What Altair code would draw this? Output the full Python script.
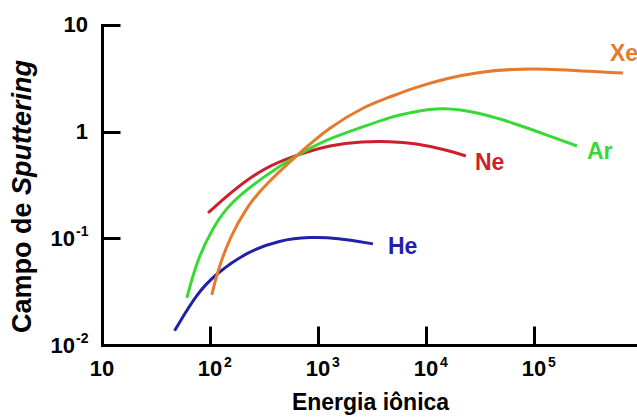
import altair as alt
import pandas as pd

# ---------------- data ----------------
gases = ["He", "Ne", "Ar", "Xe"]
colors = ["#2121a8", "#cc1f2b", "#36d936", "#e57a2c"]

he_energy = [47, 76, 116, 220, 445, 843, 1500, 3230]
he_yield = [0.0136, 0.0308, 0.0474, 0.0746, 0.0966, 0.103, 0.101, 0.0887]

ne_energy = [96, 153, 310, 640, 1290, 2610, 4640, 7590, 15600, 23400]
ne_yield = [0.173, 0.266, 0.457, 0.605, 0.75, 0.81, 0.81, 0.785, 0.673, 0.591]

ar_energy = [61, 76, 107, 153, 310, 640, 1290, 2610, 4640, 7590, 14400, 31600, 63900, 132000, 250000]
ar_yield = [0.0276, 0.0628, 0.128, 0.215, 0.376, 0.605, 0.873, 1.107, 1.37, 1.53, 1.70, 1.50, 1.21, 0.93, 0.734]

xe_energy = [104, 116, 153, 220, 310, 640, 1290, 2610, 4640, 7590, 15600, 31600, 63900, 132000, 267000, 667000]
xe_yield = [0.0295, 0.0474, 0.103, 0.197, 0.303, 0.605, 1.107, 1.70, 2.11, 2.57, 3.18, 3.63, 3.87, 3.87, 3.71, 3.55]

label_energy = [4450, 28400, 310000, 506000]
label_yield = [0.083, 0.51, 0.645, 5.35]

x_tick_values = [100, 1000, 10000, 100000]
x_label_values = [10, 100, 1000, 10000, 100000]
x_label_exps = ["2", "3", "4", "5"]
y_tick_values = [10, 1, 0.1]
y_plain_values = [10, 1]
y_plain_texts = ["10", "1"]
y_exp_values = [0.1, 0.01]
y_exp_texts = ["-1", "-2"]

x_title = "Energia iônica"
y_title_a = "Campo de"
y_title_b = "Sputtering"

# ---------------- tables ----------------
rows = []
for g, es, ys in [("He", he_energy, he_yield), ("Ne", ne_energy, ne_yield),
                  ("Ar", ar_energy, ar_yield), ("Xe", xe_energy, xe_yield)]:
    for e, y in zip(es, ys):
        rows.append({"gas": g, "E": e, "Y": y})
df = pd.DataFrame(rows)
labels_df = pd.DataFrame({"gas": gases, "E": label_energy, "Y": label_yield})

W, H = 535, 320
FONT = "Liberation Sans"
xscale = alt.Scale(type="log", domain=[10, 9e5], nice=False)
yscale = alt.Scale(type="log", domain=[0.01, 10], nice=False)
cscale = alt.Scale(domain=gases, range=colors)

# axes: black 3 px domain lines with inward ticks (negative tick size via expression)
XAX = alt.Axis(
    values=x_tick_values, labels=False, title=None, grid=False,
    domain=True, domainColor="black", domainWidth=3, domainCap="square",
    ticks=True, tickSize={"expr": "-19"}, tickWidth=3, tickColor="black",
)
YAX = alt.Axis(
    values=y_tick_values, labels=False, title=None, grid=False,
    domain=True, domainColor="black", domainWidth=3, domainCap="square",
    ticks=True, tickSize={"expr": "-18"}, tickWidth=3, tickColor="black",
)

lines = alt.Chart(df).mark_line(strokeWidth=3, interpolate="basis").encode(
    x=alt.X("E:Q", scale=xscale, axis=XAX),
    y=alt.Y("Y:Q", scale=yscale, axis=YAX),
    color=alt.Color("gas:N", scale=cscale, legend=None),
    detail="gas:N",
)

line_labels = alt.Chart(labels_df).mark_text(
    font=FONT, fontSize=23, fontWeight="bold", align="left", baseline="middle"
).encode(
    x=alt.X("E:Q", scale=xscale, axis=XAX),
    y=alt.Y("Y:Q", scale=yscale, axis=YAX),
    color=alt.Color("gas:N", scale=cscale, legend=None),
    text="gas:N",
)

# tick labels
xlab_base = alt.Chart(pd.DataFrame({"v": x_label_values})).mark_text(
    font=FONT, fontSize=22, fontWeight="bold", align="center", baseline="middle"
).encode(
    x=alt.X("v:Q", scale=xscale, axis=XAX),
    y=alt.value(H + 24),
    text=alt.value("10"),
)
xlab_exp = alt.Chart(pd.DataFrame({"v": x_tick_values, "t": x_label_exps})).mark_text(
    font=FONT, fontSize=14, fontWeight="bold", align="left", baseline="middle", dx=14
).encode(
    x=alt.X("v:Q", scale=xscale, axis=XAX),
    y=alt.value(H + 18),
    text="t:N",
)
ylab_plain = alt.Chart(pd.DataFrame({"v": y_plain_values, "t": y_plain_texts})).mark_text(
    font=FONT, fontSize=22, fontWeight="bold", align="right", baseline="middle"
).encode(
    y=alt.Y("v:Q", scale=yscale, axis=YAX),
    x=alt.value(-14),
    text="t:N",
)
ylab_base = alt.Chart(pd.DataFrame({"v": y_exp_values})).mark_text(
    font=FONT, fontSize=22, fontWeight="bold", align="right", baseline="middle", dy=1
).encode(
    y=alt.Y("v:Q", scale=yscale, axis=YAX),
    x=alt.value(-27),
    text=alt.value("10"),
)
ylab_exp = alt.Chart(pd.DataFrame({"v": y_exp_values, "t": y_exp_texts})).mark_text(
    font=FONT, fontSize=14, fontWeight="bold", align="left", baseline="middle", dy=-6
).encode(
    y=alt.Y("v:Q", scale=yscale, axis=YAX),
    x=alt.value(-26),
    text="t:N",
)

one = pd.DataFrame({"k": [0]})
xtitle = alt.Chart(one).mark_text(
    font=FONT, fontSize=23, fontWeight="bold", align="center", baseline="middle"
).encode(x=alt.value(W / 2 + 1), y=alt.value(H + 58), text=alt.value(x_title))
ytitle_a = alt.Chart(one).mark_text(
    font=FONT, fontSize=27, fontWeight="bold", align="left", baseline="middle", angle=270
).encode(x=alt.value(-79), y=alt.value(308), text=alt.value(y_title_a))
ytitle_b = alt.Chart(one).mark_text(
    font=FONT, fontSize=27, fontWeight="bold", fontStyle="italic", align="left",
    baseline="middle", angle=270
).encode(x=alt.value(-79), y=alt.value(170), text=alt.value(y_title_b))

chart = alt.layer(
    lines, line_labels, xlab_base, xlab_exp, ylab_plain, ylab_base,
    ylab_exp, xtitle, ytitle_a, ytitle_b
).properties(
    width=W, height=H,
    padding={"left": 102, "top": 25, "right": 0, "bottom": 73},
    autosize=alt.AutoSizeParams(type="none"),
    background="white",
).configure_view(stroke=None)

chart.save("out.html", embed_options={"renderer": "svg", "actions": False})
